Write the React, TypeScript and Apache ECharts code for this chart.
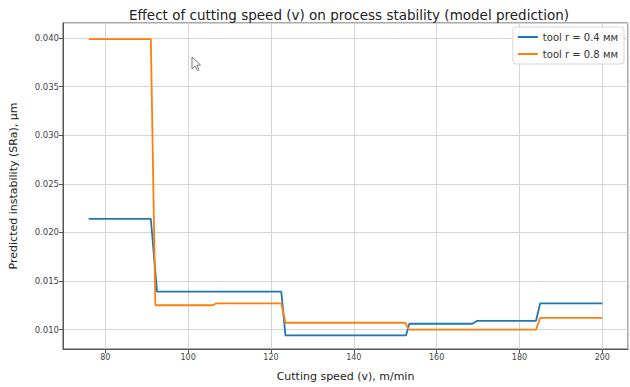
import React, { useEffect, useRef } from "react";
import * as echarts from "echarts";

const TITLE = "Effect of cutting speed (v) on process stability (model prediction)";
const X_LABEL = "Cutting speed (v), m/min";
const Y_LABEL = "Predicted instability (SRa), μm";
const SERIES_NAMES = ["tool r = 0.4 мм", "tool r = 0.8 мм"];
const COLORS = ["#1f77b4", "#ff7f0e"];

// speed breakpoints (m/min) and predicted instability
const speedR04 = [76, 91, 92.5, 122.5, 123.5, 152.6, 153.4, 168.6, 169.8, 184, 185, 200];
const valR04 = [0.0214, 0.0214, 0.0139, 0.0139, 0.0094, 0.0094, 0.0106, 0.0106, 0.0109, 0.0109, 0.0127, 0.0127];

const speedR08 = [76, 91, 92.1, 106, 106.8, 122.5, 123.5, 152.4, 153.3, 184, 185, 200];
const valR08 = [0.0399, 0.0399, 0.0125, 0.0125, 0.0127, 0.0127, 0.0107, 0.0107, 0.0100, 0.0100, 0.0112, 0.0112];

const X_MIN = 69.8;
const X_MAX = 206.2;
const X_STEP = 20;
const Y_MIN = 0.008;
const Y_MAX = 0.04155;
const Y_STEP = 0.005;

const FONT = "DejaVu Sans";

export default function App() {
  const ref = useRef<HTMLDivElement>(null);
  useEffect(() => {
    if (!ref.current) return;
    const chart = echarts.init(ref.current, undefined, { renderer: "svg" });
    const toPairs = (xs: number[], ys: number[]) => xs.map((x, i) => [x, ys[i]]);
    chart.setOption({
      animation: false,
      backgroundColor: "#ffffff",
      title: {
        text: TITLE,
        left: 344,
        textAlign: "center",
        top: 3,
        textStyle: { fontFamily: FONT, fontSize: 13.5, fontWeight: "normal", color: "#222" },
      },
      legend: {
        data: SERIES_NAMES,
        orient: "vertical",
        right: 6,
        top: 27,
        icon: "rect",
        itemWidth: 20,
        itemHeight: 2,
        itemGap: 7,
        padding: [5, 6, 5, 5],
        backgroundColor: "rgba(255,255,255,0.85)",
        borderColor: "#d6d6d6",
        borderWidth: 1,
        borderRadius: 3,
        textStyle: { fontFamily: FONT, fontSize: 10, color: "#333" },
      },
      grid: {
        left: 60,
        right: 2,
        top: 23,
        bottom: 35,
        show: true,
        borderColor: "#555",
        borderWidth: 1,
        containLabel: false,
      },
      xAxis: {
        type: "value",
        min: X_MIN,
        max: X_MAX,
        minInterval: X_STEP,
        maxInterval: X_STEP,
        splitNumber: 7,
        name: X_LABEL,
        nameLocation: "middle",
        nameGap: 22,
        nameTextStyle: { fontFamily: FONT, fontSize: 11, color: "#222" },
        axisLine: { show: true, lineStyle: { color: "#555", width: 1 } },
        axisTick: { show: true, length: 4, lineStyle: { color: "#555" } },
        axisLabel: {
          fontFamily: FONT,
          fontSize: 8,
          color: "#444",
          margin: 4,
          showMinLabel: false,
          showMaxLabel: false,
          formatter: (v: number) => String(Math.round(v)),
        },
        splitLine: { show: true, lineStyle: { color: "#d4d4d4", width: 1 } },
      },
      yAxis: {
        type: "value",
        min: Y_MIN,
        max: Y_MAX,
        minInterval: Y_STEP,
        maxInterval: Y_STEP,
        splitNumber: 7,
        name: Y_LABEL,
        nameLocation: "middle",
        nameGap: 44,
        nameTextStyle: { fontFamily: FONT, fontSize: 11, color: "#222" },
        axisLine: { show: true, lineStyle: { color: "#555", width: 1 } },
        axisTick: { show: true, length: 4, lineStyle: { color: "#555" } },
        axisLabel: {
          fontFamily: FONT,
          fontSize: 8.5,
          color: "#444",
          margin: 4,
          showMinLabel: false,
          showMaxLabel: false,
          formatter: (v: number) => v.toFixed(3),
        },
        splitLine: { show: true, lineStyle: { color: "#d4d4d4", width: 1 } },
      },
      series: [
        {
          name: SERIES_NAMES[0],
          type: "line",
          data: toPairs(speedR04, valR04),
          showSymbol: false,
          symbol: "none",
          lineStyle: { color: COLORS[0], width: 1.8 },
          itemStyle: { color: COLORS[0] },
        },
        {
          name: SERIES_NAMES[1],
          type: "line",
          data: toPairs(speedR08, valR08),
          showSymbol: false,
          symbol: "none",
          lineStyle: { color: COLORS[1], width: 1.8 },
          itemStyle: { color: COLORS[1] },
        },
      ],
      graphic: [
        {
          type: "polygon",
          shape: { points: [[192, 57], [192, 69], [195, 66], [197.5, 70.5], [199, 69.5], [196.8, 65.3], [200.5, 65]] },
          style: { fill: "#fff", stroke: "#777", lineWidth: 1 },
          z: 100,
        },
      ],
    });
    return () => chart.dispose();
  }, []);
  return (
    <div
      ref={ref}
      style={{ position: "absolute", left: 0, top: 0, width: 630, height: 387 }}
    />
  );
}
